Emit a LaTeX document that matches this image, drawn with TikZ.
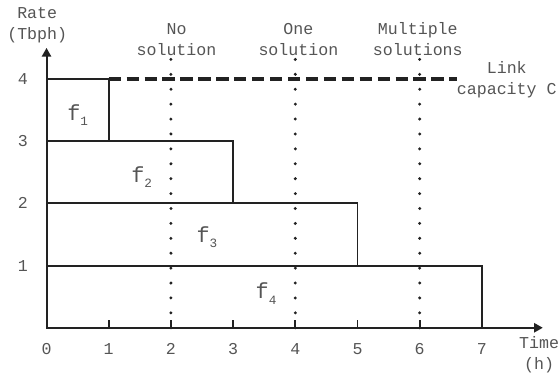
\documentclass[tikz,border=0pt]{standalone}
\usepackage{fontspec}
\setmainfont{Liberation Mono}
\usetikzlibrary{arrows.meta}
\definecolor{ink}{HTML}{222222}
\definecolor{txt}{HTML}{555555}
\newcommand{\flab}[1]{f\raisebox{-0.45ex}{\fontsize{5.8}{6}\selectfont #1}}
\begin{document}
\begin{tikzpicture}[x=1cm,y=1cm,
  lbl/.style={text=txt,font=\fontsize{7.6}{9.6}\selectfont,inner sep=0pt,align=center},
  flow/.style={text=txt,font=\fontsize{10}{11}\selectfont,inner sep=0pt},
  bar/.style={draw=ink,line width=0.9pt},
  axisline/.style={draw=ink,line width=0.9pt,-{Triangle[length=4pt,width=4.2pt]}},
  capline/.style={draw=ink,line width=1.8pt,dash pattern=on 5.6pt off 2.6pt},
  dotline/.style={draw=ink,line width=1.5pt,line cap=round,dash pattern=on 0pt off 6.82pt},
  tickmark/.style={draw=ink,line width=0.9pt}]
\useasboundingbox (-0.748,-0.79) rectangle (8.24,5.27);
% flows
\draw[bar] (0,3) rectangle (1,4);
\draw[bar] (0,2) rectangle (3,3);
\draw[bar] (0,1) rectangle (5,2);
\draw[bar] (0,0) rectangle (7,1);
% capacity
\coordinate (cs) at (1,4);
\coordinate (ce) at (6.6,4);
\draw[capline] (cs) -- (ce);
% dotted lines
\foreach \t in {2,4,6}{
  \coordinate (db\t) at (\t,0);
  \coordinate (dt\t) at (\t,4.33);
  \draw[dotline] (db\t) -- (dt\t);
}
% axes
\coordinate (o) at (0,0);
\coordinate (xe) at (7.98,0);
\coordinate (ye) at (0,4.5);
\draw[axisline] (o) -- (xe);
\draw[axisline] (o) -- (ye);
\foreach \t in {1,...,7}{
  \coordinate (tk\t) at (\t,0);
  \coordinate (tu\t) at (\t,0.13);
  \draw[tickmark] (tk\t) -- (tu\t);
}
% tick labels
\foreach \t in {0,...,7}{
  \node[lbl] (xl\t) at (\t,-0.34) {\t};
}
\foreach \r in {1,...,4}{
  \node[lbl] (yl\r) at (-0.38,\r) {\r};
}
% axis titles
\node[lbl] (rate) at (-0.15,4.87) {Rate\\(Tbph)};
\node[lbl] (time) at (7.92,-0.44) {Time\\(h)};
% region titles
\node[lbl] (nosol) at (2.09,4.64) {No\\solution};
\node[lbl] (onesol) at (4.05,4.64) {One\\solution};
\node[lbl] (multsol) at (5.97,4.64) {Multiple\\solutions};
\node[lbl] (link) at (7.40,3.985) {Link\\capacity C};
% flow labels
\node[flow] (f1) at (0.5,3.42) {\flab{1}};
\node[flow] (f2) at (1.53,2.42) {\flab{2}};
\node[flow] (f3) at (2.58,1.46) {\flab{3}};
\node[flow] (f4) at (3.53,0.55) {\flab{4}};
\end{tikzpicture}
\end{document}
